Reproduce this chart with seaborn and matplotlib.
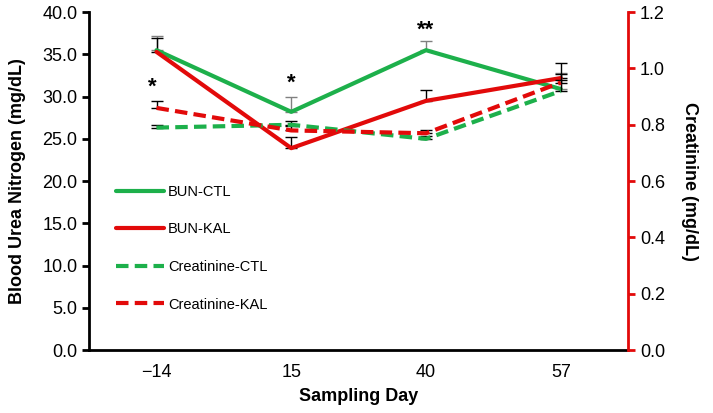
import pandas as pd
import seaborn as sns
import matplotlib.pyplot as plt
import numpy as np

# data
days = ["\u221214", "15", "40", "57"]
bun_ctl = [35.5, 28.2, 35.5, 30.9]
bun_ctl_err = [1.7, 1.7, 1.1, 1.9]
bun_kal = [35.3, 23.9, 29.5, 32.2]
bun_kal_err = [1.7, 1.3, 1.3, 1.8]
creat_ctl = [0.79, 0.80, 0.75, 0.92]
creat_ctl_err = [0.01, 0.015, 0.01, 0.04]
creat_kal = [0.86, 0.78, 0.77, 0.95]
creat_kal_err = [0.025, 0.015, 0.01, 0.03]
stars = ["*", "*", "**", ""]
star_y = [31.1, 31.6, 37.9, 0]

GREEN = "#1DB04B"
RED = "#E20A0A"

sns.set_style("white")
plt.rcParams["font.family"] = ["Liberation Sans", "DejaVu Sans"]
plt.rcParams["text.color"] = "black"
plt.rcParams["axes.labelcolor"] = "black"
plt.rcParams["xtick.color"] = "black"
plt.rcParams["ytick.color"] = "black"

fig = plt.figure(figsize=(7.13, 4.13), dpi=100)
ax = fig.add_axes([0.125, 0.1525, 0.756, 0.818])
ax2 = ax.twinx()

x = np.arange(len(days))
bun = pd.DataFrame({"day": x, "BUN-CTL": bun_ctl, "BUN-KAL": bun_kal})
cre = pd.DataFrame({"day": x, "Creatinine-CTL": creat_ctl, "Creatinine-KAL": creat_kal})

# error bars (upper only)
ax.errorbar(x, bun_ctl, yerr=[np.zeros(4), bun_ctl_err], fmt="none", ecolor="#808080",
            elinewidth=1, capsize=4, zorder=1)
ax.errorbar(x, bun_kal, yerr=[np.zeros(4), bun_kal_err], fmt="none", ecolor="black",
            elinewidth=1, capsize=4, zorder=1)
ax2.errorbar(x, creat_ctl, yerr=[np.zeros(4), creat_ctl_err], fmt="none", ecolor="black",
             elinewidth=1, capsize=4, zorder=1)
ax2.errorbar(x, creat_kal, yerr=[np.zeros(4), creat_kal_err], fmt="none", ecolor="black",
             elinewidth=1, capsize=4, zorder=1)

sns.lineplot(data=bun, x="day", y="BUN-CTL", ax=ax, color=GREEN, linewidth=3, label="BUN-CTL", legend=False)
sns.lineplot(data=bun, x="day", y="BUN-KAL", ax=ax, color=RED, linewidth=3, label="BUN-KAL", legend=False)
sns.lineplot(data=cre, x="day", y="Creatinine-CTL", ax=ax2, color=GREEN, linewidth=3,
             linestyle=(0, (3, 1.5)), label="Creatinine-CTL", legend=False)
sns.lineplot(data=cre, x="day", y="Creatinine-KAL", ax=ax2, color=RED, linewidth=3,
             linestyle=(0, (3, 1.5)), label="Creatinine-KAL", legend=False)

# significance marks
for i, s in enumerate(stars):
    if s:
        ax.text(x[i] - 0.03 if i == 0 else x[i], star_y[i], s, ha="center", va="center",
                fontsize=16, fontweight="bold")

ax.set_xlim(-0.5, 3.5)
ax.set_ylim(0, 40)
ax.set_yticks(np.arange(0, 41, 5))
ax.set_yticklabels([f"{v:.1f}" for v in np.arange(0, 41, 5)], fontsize=13)
ax.set_xticks(x)
ax.set_xticklabels(days, fontsize=13)
ax.set_xticks(np.arange(-0.5, 4, 1), minor=True)
ax.tick_params(axis="x", which="major", length=0, pad=10)
ax.tick_params(axis="x", which="minor", length=5, width=2, direction="in", color="black")
ax.tick_params(axis="y", which="major", length=5, width=2, direction="out", color="black", left=True)
ax.set_xlabel("Sampling Day", fontsize=13, fontweight="bold", labelpad=5)
ax.set_ylabel("Blood Urea Nitrogen (mg/dL)", fontsize=13, fontweight="bold", labelpad=12)

ax2.set_ylim(0, 1.2)
ax2.set_yticks(np.arange(0, 1.21, 0.2))
ax2.set_yticklabels([f"{v:.1f}" for v in np.arange(0, 1.21, 0.2)], fontsize=13)
ax2.tick_params(axis="y", length=5, width=2, direction="out", color=RED, right=True)
ax2.set_ylabel("Creatinine (mg/dL)", fontsize=13, fontweight="bold", rotation=270, labelpad=24)

for a in (ax, ax2):
    a.spines["top"].set_visible(False)
ax.spines["right"].set_visible(False)
ax2.spines["left"].set_visible(False)
ax2.spines["bottom"].set_visible(False)
ax.spines["left"].set_linewidth(2)
ax.spines["left"].set_color("black")
ax.spines["bottom"].set_linewidth(2)
ax.spines["bottom"].set_color("black")
ax2.spines["right"].set_linewidth(2)
ax2.spines["right"].set_color(RED)

h1, l1 = ax.get_legend_handles_labels()
h2, l2 = ax2.get_legend_handles_labels()
ax2.legend(h1 + h2, l1 + l2, loc="lower left", bbox_to_anchor=(0.025, 0.075), frameon=False,
           fontsize=10.5, handlelength=3.3, labelspacing=1.62, handletextpad=0.3)

fig.savefig("out.png", dpi=100)
